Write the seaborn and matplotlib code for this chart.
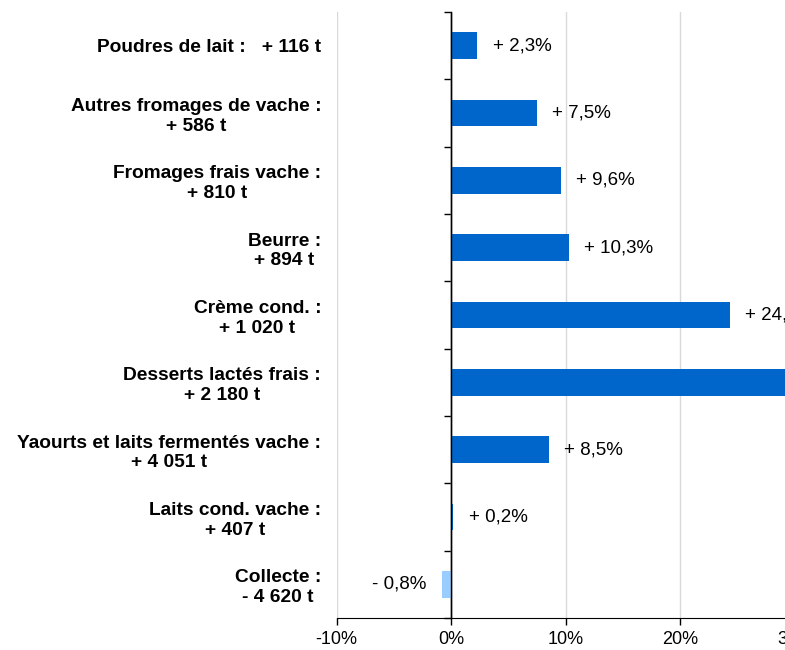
import pandas as pd
import matplotlib
matplotlib.use("Agg")
import matplotlib.pyplot as plt
import seaborn as sns

# ── DATA ──────────────────────────────────────────────────
categories = [
    "Poudres de lait :   + 116 t",
    "Autres fromages de vache :\n+ 586 t",
    "Fromages frais vache :\n+ 810 t",
    "Beurre :\n+ 894 t",
    "Crème cond. :\n+ 1 020 t",
    "Desserts lactés frais :\n+ 2 180 t",
    "Yaourts et laits fermentés vache :\n+ 4 051 t",
    "Laits cond. vache :\n+ 407 t",
    "Collecte :\n- 4 620 t",
]
values = [2.3, 7.5, 9.6, 10.3, 24.3, 38.0, 8.5, 0.2, -0.8]
value_labels = ["+ 2,3%", "+ 7,5%", "+ 9,6%", "+ 10,3%", "+ 24,3%",
                "+ 38,0%", "+ 8,5%", "+ 0,2%", "- 0,8%"]
bar_colors = ["#0066CC"] * 8 + ["#99CCFF"]
x_ticks = [-10, 0, 10, 20, 30]

df = pd.DataFrame({"cat": categories, "val": values})

# ── STYLE ─────────────────────────────────────────────────
sns.set_style("white", {"text.color": "black", "xtick.color": "black",
                        "ytick.color": "black", "axes.labelcolor": "black"})
plt.rcParams["font.family"] = ["Liberation Sans", "DejaVu Sans"]

fig = plt.figure(figsize=(7.85, 6.5), dpi=100)
xmin, xmax = -10, 30
left, right = 336.5 / 785, 795 / 785
ax = fig.add_axes([left, 1 - 618 / 650, right - left, (618 - 12) / 650])

sns.barplot(data=df, x="val", y="cat", hue="cat",
            palette=dict(zip(categories, bar_colors)),
            legend=False, width=0.4, saturation=1, linewidth=0, ax=ax)

ax.set_xlim(xmin, xmax)
ax.set_ylim(len(categories) - 0.5, -0.5)
ax.set_xlabel("")
ax.set_ylabel("")

# x axis
ax.set_xticks(x_ticks)
ax.set_xticklabels([f"{t}%" for t in x_ticks], fontsize=13)
ax.tick_params(axis="x", direction="out", length=5, width=1, color="black",
               labelcolor="black", bottom=True, pad=4)
ax.grid(axis="x", color="#D9D9D9", lw=1)
ax.set_axisbelow(True)

# y labels on the left, spine hidden
ax.tick_params(axis="y", length=0, pad=11, labelcolor="black")
for lab in ax.get_yticklabels():
    lab.set_fontsize(13.8)
    lab.set_fontweight("bold")
    lab.set_multialignment("center")

for s in ["top", "right", "left"]:
    ax.spines[s].set_visible(False)
ax.spines["bottom"].set_color("black")

# vertical axis line at 0 with boundary ticks
loc0 = (0 - xmin) / (xmax - xmin)
sec = ax.secondary_yaxis(loc0)
sec.set_yticks([i - 0.5 for i in range(len(categories) + 1)])
sec.set_yticklabels([])
sec.tick_params(axis="y", direction="out", length=5, width=1, color="black")
sec.spines["left"].set_visible(True)
sec.spines["left"].set_color("black")
sec.spines["left"].set_linewidth(1)
ax.axvline(0, color="black", lw=1, zorder=5)

# value labels
for i, (v, t) in enumerate(zip(values, value_labels)):
    off = 11 if v >= 0 else -11
    ax.annotate(t, xy=(v, i), xytext=(off, 0), textcoords="offset points",
                ha="left" if v >= 0 else "right", va="center", fontsize=13.5,
                color="black")

fig.savefig("out.png", dpi=100)
